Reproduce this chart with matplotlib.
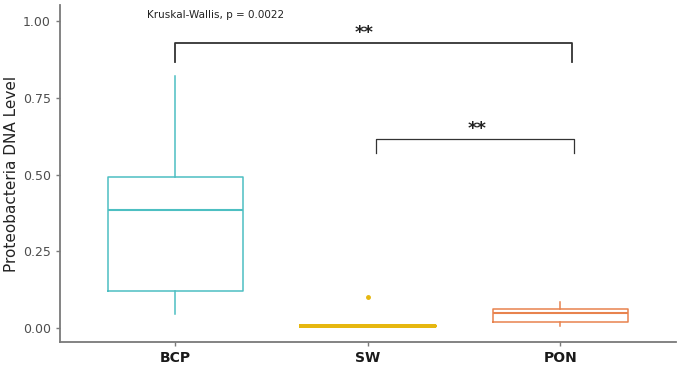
import matplotlib
matplotlib.use('Agg')
import matplotlib.pyplot as plt

groups = ["BCP", "SW", "PON"]
colours = ["#4DBFC2", "#E6B710", "#E8834E"]

# box stats
whislo = [0.046, 0.005, 0.007]
q1 = [0.120, 0.005, 0.020]
med = [0.384, 0.005, 0.048]
q3 = [0.492, 0.005, 0.062]
whishi = [0.820, 0.005, 0.085]
fliers = [[], [0.102], []]

# significance brackets: (x start, x end, y, tick drop, star x, label)
brackets = [(1.0, 3.06, 0.93, 0.064, 1.98, "**"),
            (2.04, 3.07, 0.616, 0.046, 2.57, "**")]
kw_text = "Kruskal-Wallis, p = 0.0022"

fig = plt.figure(figsize=(6.85, 3.67), dpi=100)
ax = fig.add_axes([0.0876, 0.068, 0.899, 0.918])

grey = "#7a7a7a"
for i, g in enumerate(groups):
    st = [dict(label=g, whislo=whislo[i], q1=q1[i], med=med[i], q3=q3[i],
               whishi=whishi[i], fliers=fliers[i])]
    lw = 2.6 if g == "SW" else 1.1
    c = colours[i]
    ax.bxp(st, positions=[i + 1], widths=0.7, showcaps=False, patch_artist=False,
           boxprops=dict(color=c, linewidth=lw),
           medianprops=dict(color=c, linewidth=lw + 0.4 if g != "SW" else lw),
           whiskerprops=dict(color=c, linewidth=lw),
           flierprops=dict(marker="o", markerfacecolor=c, markeredgecolor=c, markersize=2.5))

for x0, x1, y, drop, sx, lab in brackets:
    lw = 1.3 if y > 0.8 else 0.9
    ax.plot([x0, x0, x1, x1], [y - drop, y, y, y - drop],
            color="#333333", linewidth=lw, clip_on=False)
    ax.text(sx, y + 0.002, lab, ha="center", va="bottom",
            fontsize=13, fontweight="bold", color="#222222")

ax.text(1.21, 1.005, kw_text, ha="center", va="bottom", fontsize=7.5, color="#222222")

ax.set_xlim(0.4, 3.6)
ax.set_ylim(-0.046, 1.052)
ax.set_xticks([1, 2, 3])
ax.set_xticklabels(groups, fontweight="bold", fontsize=10)
ax.set_yticks([0, 0.25, 0.5, 0.75, 1.0])
ax.set_yticklabels(["0.00", "0.25", "0.50", "0.75", "1.00"], fontsize=9)
ax.set_ylabel("Proteobacteria DNA Level", fontsize=11, color="#222222", labelpad=3)
ax.tick_params(colors=grey, length=3, width=1)
ax.tick_params(axis="x", labelcolor="#1a1a1a")
ax.tick_params(axis="y", labelcolor="#4d4d4d")
for s in ["top", "right"]:
    ax.spines[s].set_visible(False)
for s in ["left", "bottom"]:
    ax.spines[s].set_color(grey)
    ax.spines[s].set_linewidth(1.3)

fig.savefig("out.png", dpi=100)
